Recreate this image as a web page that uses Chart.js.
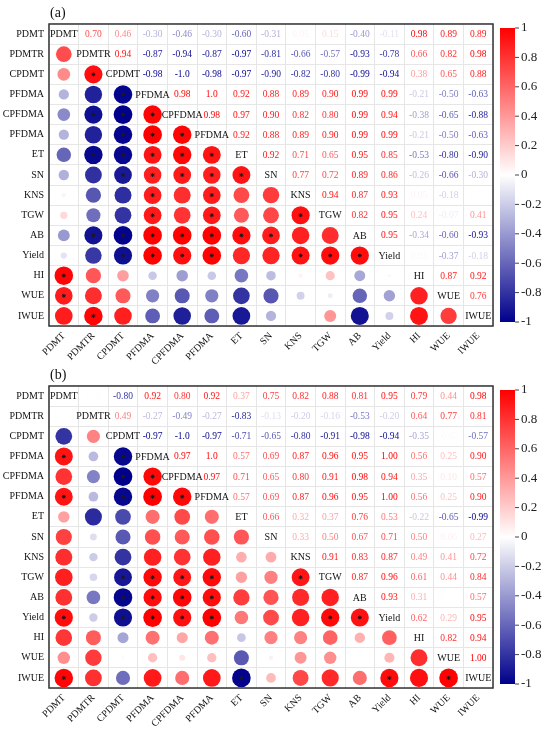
<!DOCTYPE html>
<html>
<head>
<meta charset="utf-8">
<script src="https://cdn.jsdelivr.net/npm/chart.js"></script>
<style>
  body { margin: 0; background: #fff; }
  #wrap { position: relative; width: 550px; height: 731px; }
  canvas { position: absolute; left: 0; }
</style>
</head>
<body>
<div id="wrap">
  <canvas id="chartA" width="550" height="372" style="top:0"></canvas>
  <canvas id="chartB" width="550" height="369" style="top:362px"></canvas>
</div>
<script>
// variable names (same order on both axes)
var names = ['PDMT', 'PDMTR', 'CPDMT', 'PFDMA', 'CPFDMA', 'PFDMA', 'ET', 'SN', 'KNS', 'TGW', 'AB', 'Yield', 'HI', 'WUE', 'IWUE'];

// upper triangle of correlation matrix, row i holds columns i+1..14
var corrA = [
  [0.70, 0.46, -0.30, -0.46, -0.30, -0.60, -0.31, 0.05, 0.15, -0.40, -0.11, 0.98, 0.89, 0.89],
  [0.94, -0.87, -0.94, -0.87, -0.97, -0.81, -0.66, -0.57, -0.93, -0.78, 0.66, 0.82, 0.98],
  [-0.98, -1, -0.98, -0.97, -0.90, -0.82, -0.80, -0.99, -0.94, 0.38, 0.65, 0.88],
  [0.98, 1, 0.92, 0.88, 0.89, 0.90, 0.99, 0.99, -0.21, -0.50, -0.63],
  [0.98, 0.97, 0.90, 0.82, 0.80, 0.99, 0.94, -0.38, -0.65, -0.88],
  [0.92, 0.88, 0.89, 0.90, 0.99, 0.99, -0.21, -0.50, -0.63],
  [0.92, 0.71, 0.65, 0.95, 0.85, -0.53, -0.80, -0.90],
  [0.77, 0.72, 0.89, 0.86, -0.26, -0.66, -0.30],
  [0.94, 0.87, 0.93, 0.05, -0.18, 0.01],
  [0.82, 0.95, 0.24, -0.07, 0.41],
  [0.95, -0.34, -0.60, -0.93],
  [0.03, -0.37, -0.18],
  [0.87, 0.92],
  [0.76]
];
var corrB = [
  [0.01, -0.80, 0.92, 0.80, 0.92, 0.37, 0.75, 0.82, 0.88, 0.81, 0.95, 0.79, 0.44, 0.98],
  [0.49, -0.27, -0.49, -0.27, -0.83, -0.13, -0.20, -0.16, -0.53, -0.20, 0.64, 0.77, 0.81],
  [-0.97, -1, -0.97, -0.71, -0.65, -0.80, -0.91, -0.98, -0.94, -0.35, -0.02, -0.57],
  [0.97, 1, 0.57, 0.69, 0.87, 0.96, 0.95, 0.996, 0.56, 0.25, 0.90],
  [0.97, 0.71, 0.65, 0.80, 0.91, 0.98, 0.94, 0.35, 0.10, 0.57],
  [0.57, 0.69, 0.87, 0.96, 0.95, 0.996, 0.56, 0.25, 0.90],
  [0.66, 0.32, 0.37, 0.76, 0.53, -0.22, -0.65, -0.99],
  [0.33, 0.50, 0.67, 0.71, 0.50, 0.06, 0.27],
  [0.91, 0.83, 0.87, 0.49, 0.41, 0.72],
  [0.87, 0.96, 0.61, 0.44, 0.84],
  [0.93, 0.31, 0.01, 0.57],
  [0.62, 0.29, 0.95],
  [0.82, 0.94],
  [0.996]
];

// significant cells (row, col) in the lower triangle
var sigA = [[2,1],[3,2],[4,1],[4,2],[4,3],[5,2],[5,3],[5,4],[6,1],[6,2],[6,3],[6,4],[6,5],
  [7,2],[7,3],[7,4],[7,5],[7,6],[8,3],[8,5],[9,3],[9,5],[9,8],
  [10,1],[10,2],[10,3],[10,4],[10,5],[10,6],[10,7],
  [11,2],[11,3],[11,4],[11,5],[11,8],[11,9],[11,10],[12,0],[13,0],[14,1]];
var sigB = [[3,0],[3,2],[4,2],[4,3],[5,0],[5,2],[5,3],[5,4],
  [9,2],[9,3],[9,4],[9,5],[9,8],[10,2],[10,3],[10,4],[10,5],
  [11,0],[11,2],[11,3],[11,4],[11,5],[11,9],[11,10],[14,0],[14,6],[14,11],[14,13]];

var cbTicks = [1, 0.8, 0.6, 0.4, 0.2, 0, -0.2, -0.4, -0.6, -0.8, -1];

var serif = 'Liberation Serif';

function corrColor(v) {
  var r, g, b, t;
  if (v >= 0) {
    t = Math.min(v, 1);
    r = 255; g = b = Math.round(255 * (1 - t));
  } else {
    t = Math.min(-v, 1);
    r = g = Math.round(255 * (1 - t));
    b = Math.round(255 - (255 - 139) * t);
  }
  return 'rgb(' + r + ',' + g + ',' + b + ')';
}

function fullMatrix(upper) {
  var n = names.length, m = [];
  for (var i = 0; i < n; i++) { m.push([]); for (var j = 0; j < n; j++) m[i].push(i === j ? 1 : 0); }
  for (var i = 0; i < upper.length; i++) {
    for (var k = 0; k < upper[i].length; k++) {
      var j = i + 1 + k;
      m[i][j] = upper[i][k]; m[j][i] = upper[i][k];
    }
  }
  return m;
}

function fmt(v) {
  if (v === 1 || v === -1) return v.toFixed(1);
  return v.toFixed(2);
}

function makeChart(id, upper, sig, tag, topPad, axisH) {
  var m = fullMatrix(upper);
  var idx = names.map(function (_, i) { return i; });
  var circles = [];
  for (var i = 1; i < names.length; i++)
    for (var j = 0; j < i; j++) circles.push({ x: j, y: i, v: m[i][j] });
  var stars = sig.map(function (p) { return { x: p[1], y: p[0] }; });

  var cellText = {
    id: 'cellText',
    afterDatasetsDraw: function (chart) {
      var c = chart.ctx, xs = chart.scales.x, ys = chart.scales.y, ca = chart.chartArea;
      c.save();
      c.textAlign = 'center';
      c.textBaseline = 'middle';
      for (var i = 0; i < names.length; i++) {
        for (var j = i; j < names.length; j++) {
          var px = xs.getPixelForValue(j), py = ys.getPixelForValue(i);
          if (i === j) {
            c.font = '10px "' + serif + '"';
            c.fillStyle = '#111';
            c.fillText(names[i], px, py + 0.5);
          } else {
            c.font = '9.5px "' + serif + '"';
            c.fillStyle = corrColor(m[i][j]);
            c.fillText(fmt(m[i][j]), px, py + 0.5);
          }
        }
      }
      // frame
      c.strokeStyle = '#333';
      c.lineWidth = 1.5;
      c.strokeRect(ca.left, ca.top, ca.right - ca.left, ca.bottom - ca.top);
      // panel tag
      c.textAlign = 'left';
      c.textBaseline = 'middle';
      c.fillStyle = '#111';
      c.font = '14px "' + serif + '"';
      c.fillText(tag, ca.left + 1, ca.top - 11);
      // colour bar
      var bx = ca.right + 7, bw = 15, bt = ca.top + 4, bb = ca.bottom - 4;
      var grad = c.createLinearGradient(0, bt, 0, bb);
      grad.addColorStop(0, corrColor(1));
      grad.addColorStop(0.5, corrColor(0));
      grad.addColorStop(1, corrColor(-1));
      c.fillStyle = grad;
      c.fillRect(bx, bt, bw, bb - bt);
      c.strokeStyle = '#444';
      c.lineWidth = 1;
      c.font = '13px "' + serif + '"';
      c.fillStyle = '#222';
      cbTicks.forEach(function (t) {
        var y = bt + (1 - t) / 2 * (bb - bt);
        c.beginPath();
        c.moveTo(bx + bw, y);
        c.lineTo(bx + bw + 4, y);
        c.stroke();
        c.fillText(String(t), bx + bw + 6, y);
      });
      c.restore();
    }
  };

  var tickFont = { family: serif, size: 10 };
  return new Chart(document.getElementById(id), {
    type: 'scatter',
    data: {
      datasets: [{
        order: 2,
        data: circles,
        pointRadius: function (ctx) {
          var ca = ctx.chart.chartArea;
          if (!ca || !ctx.raw) return 0;
          var half = (ca.bottom - ca.top) / names.length / 2 * 0.93;
          return half * Math.sqrt(Math.abs(ctx.raw.v));
        },
        backgroundColor: function (ctx) { return ctx.raw ? corrColor(ctx.raw.v) : '#fff'; },
        borderWidth: 0,
        pointHoverRadius: 0
      }, {
        order: 1,
        data: stars,
        pointStyle: 'star',
        pointRadius: 2,
        borderColor: '#1a1a1a',
        backgroundColor: '#1a1a1a',
        borderWidth: 1
      }]
    },
    options: {
      responsive: false,
      animation: false,
      layout: { padding: { top: topPad, right: 57, left: 0, bottom: 0 } },
      plugins: { legend: { display: false }, tooltip: { enabled: false } },
      scales: {
        x: {
          type: 'category',
          labels: idx,
          offset: true,
          grid: { offset: true, color: '#e6e6e6', drawTicks: false },
          border: { display: false },
          ticks: {
            autoSkip: false, minRotation: 45, maxRotation: 45, padding: 4,
            font: tickFont, color: '#111',
            callback: function (v) { return names[v]; }
          },
          afterFit: function (s) { s.height = axisH; }
        },
        y: {
          type: 'category',
          labels: idx,
          offset: true,
          grid: { offset: true, color: '#e6e6e6', drawTicks: false },
          border: { display: false },
          ticks: {
            autoSkip: false, padding: 5,
            font: tickFont, color: '#111',
            callback: function (v) { return names[v]; }
          },
          afterFit: function (s) { s.width = 49; }
        }
      }
    },
    plugins: [cellText]
  });
}

makeChart('chartA', corrA, sigA, '(a)', 24, 46);
makeChart('chartB', corrB, sigB, '(b)', 24, 43);
</script>
</body>
</html>
